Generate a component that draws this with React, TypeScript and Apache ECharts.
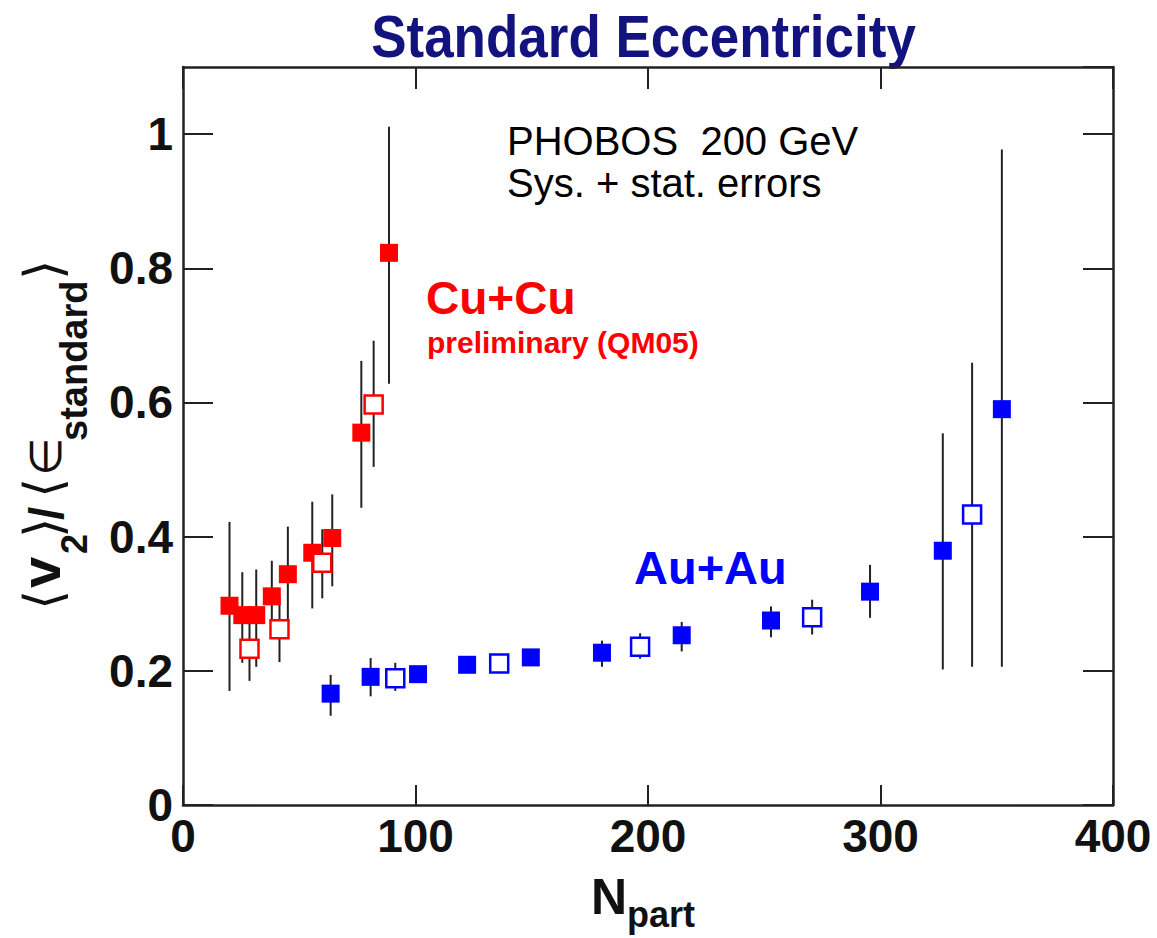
import React, { useEffect, useRef } from "react";
import * as echarts from "echarts";

// Cu+Cu filled squares
const cuFilledX = [20.0, 25.5, 31.5, 38.2, 45.1, 55.6, 64.2, 76.7, 88.6];
const cuFilledY = [0.297, 0.283, 0.283, 0.311, 0.344, 0.376, 0.398, 0.555, 0.823];
const cuFilledLo = [0.170, 0.212, 0.206, 0.257, 0.277, 0.293, 0.326, 0.443, 0.628];
const cuFilledHi = [0.422, 0.347, 0.351, 0.364, 0.415, 0.452, 0.463, 0.662, 1.011];
// Cu+Cu open squares
const cuOpenX = [28.6, 41.5, 59.9, 82.0];
const cuOpenY = [0.233, 0.262, 0.361, 0.597];
const cuOpenLo = [0.185, 0.213, 0.308, 0.504];
const cuOpenHi = [0.281, 0.312, 0.411, 0.692];
// Au+Au filled squares
const auFilledX = [63.5, 80.7, 101.1, 122.2, 149.6, 180.2, 214.5, 252.9, 295.5, 326.8, 352.2];
const auFilledY = [0.166, 0.191, 0.195, 0.209, 0.220, 0.227, 0.253, 0.275, 0.318, 0.379, 0.590];
const auFilledLo = [0.133, 0.162, 0.190, 0.200, 0.210, 0.206, 0.229, 0.250, 0.279, 0.202, 0.206];
const auFilledHi = [0.194, 0.219, 0.200, 0.215, 0.228, 0.245, 0.273, 0.296, 0.358, 0.554, 0.977];
// Au+Au open squares
const auOpenX = [91.3, 136.0, 196.6, 270.6, 339.4];
const auOpenY = [0.189, 0.211, 0.236, 0.280, 0.433];
const auOpenLo = [0.170, 0.205, 0.218, 0.254, 0.206];
const auOpenHi = [0.212, 0.218, 0.256, 0.306, 0.659];

const xTicks = [0, 100, 200, 300, 400];
const yTicks = [0, 0.2, 0.4, 0.6, 0.8, 1];

const titleText = "Standard Eccentricity";
const infoLines = ["PHOBOS  200 GeV", "Sys. + stat. errors"];
const cuLabel = "Cu+Cu";
const cuSubLabel = "preliminary (QM05)";
const auLabel = "Au+Au";

const FONT = "Liberation Sans, Arial, Helvetica, sans-serif";
const MATH = "DejaVu Sans, Liberation Sans, sans-serif";

function pts(xs: number[], ys: number[]) {
  return xs.map((x, i) => [x, ys[i]]);
}
function errs(xs: number[], lo: number[], hi: number[]) {
  return xs.map((x, i) => [x, lo[i], hi[i]]);
}

export default function App() {
  const ref = useRef<HTMLDivElement>(null);
  useEffect(() => {
    if (!ref.current) return;
    const chart = echarts.init(ref.current, null, { renderer: "svg" });

    const errSeries = (data: number[][]) => ({
      type: "custom",
      xAxisIndex: 0,
      yAxisIndex: 0,
      z: 1,
      silent: true,
      data,
      encode: { x: 0, y: [1, 2] },
      renderItem: (params: any, api: any) => {
        const p1 = api.coord([api.value(0), api.value(1)]);
        const p2 = api.coord([api.value(0), api.value(2)]);
        return {
          type: "line",
          shape: { x1: p1[0], y1: p1[1], x2: p2[0], y2: p2[1] },
          style: { stroke: "#222", lineWidth: 2 },
        };
      },
    });

    const markSeries = (data: number[][], color: string, open: boolean) => ({
      type: "scatter",
      xAxisIndex: 0,
      yAxisIndex: 0,
      z: 3,
      symbol: "rect",
      symbolSize: open ? 18 : 18,
      data,
      itemStyle: open
        ? { color: "#ffffff", borderColor: color, borderWidth: 2.5, opacity: 1 }
        : { color, opacity: 1 },
    });

    const axisLineStyle = { color: "#222", width: 2.5 };
    const tickLabel = {
      fontFamily: FONT,
      fontWeight: "bold",
      fontSize: 46,
      color: "#111",
    };

    const yStart = 610;
    const yTitleParts = [
      { t: "\u27E8", x: 0, y: 43, font: MATH, w: "normal", s: 52 },
      { t: "v", x: 22, y: 40, font: FONT, w: "bold", s: 56 },
      { t: "2", x: 56, y: 74, font: FONT, w: "bold", s: 36 },
      { t: "\u27E9", x: 72, y: 43, font: MATH, w: "normal", s: 52 },
      { t: "/", x: 90, y: 46, font: FONT, w: "bold", s: 48 },
      { t: "\u27E8", x: 112, y: 43, font: MATH, w: "normal", s: 52 },
      { t: "\u2208", x: 134, y: 45, font: MATH, w: "normal", s: 44 },
      { t: "standard", x: 169, y: 74, font: FONT, w: "bold", s: 38 },
      { t: "\u27E9", x: 330, y: 43, font: MATH, w: "normal", s: 52 },
    ];

    chart.setOption({
      animation: false,
      backgroundColor: "#ffffff",
      grid: {
        left: 183,
        top: 67,
        right: 44,
        bottom: 133,
        containLabel: false,
        outerBoundsMode: "none",
      },
      xAxis: [
        {
          type: "value",
          position: "bottom",
          min: xTicks[0],
          max: xTicks[xTicks.length - 1],
          interval: 100,
          axisLine: { show: true, onZero: false, lineStyle: axisLineStyle },
          axisTick: { show: true, inside: true, length: 20, lineStyle: { color: "#222", width: 2 } },
          axisLabel: { ...tickLabel, margin: 8 },
          splitLine: { show: false },
        },
        {
          type: "value",
          position: "top",
          min: xTicks[0],
          max: xTicks[xTicks.length - 1],
          interval: 100,
          axisLine: { show: true, onZero: false, lineStyle: axisLineStyle },
          axisTick: { show: true, inside: true, length: 22, lineStyle: { color: "#222", width: 2 } },
          axisLabel: { show: false },
          splitLine: { show: false },
        },
      ],
      yAxis: [
        {
          type: "value",
          position: "left",
          min: 0,
          max: 1.1,
          interval: 0.2,
          axisLine: { show: true, onZero: false, lineStyle: axisLineStyle },
          axisTick: { show: true, inside: true, length: 30, lineStyle: { color: "#222", width: 2 } },
          axisLabel: {
            ...tickLabel,
            margin: 10,
            padding: [8, 0, 0, 0],
            showMaxLabel: false,
            formatter: (v: number) => {
              const m = yTicks.find((t) => Math.abs(t - v) < 1e-6);
              return m === undefined ? "" : String(m);
            },
          },
          splitLine: { show: false },
        },
        {
          type: "value",
          position: "right",
          min: 0,
          max: 1.1,
          interval: 0.2,
          axisLine: { show: true, onZero: false, lineStyle: axisLineStyle },
          axisTick: { show: true, inside: true, length: 30, lineStyle: { color: "#222", width: 2 } },
          axisLabel: { show: false },
          splitLine: { show: false },
        },
      ],
      series: [
        errSeries(errs(cuFilledX, cuFilledLo, cuFilledHi)),
        errSeries(errs(cuOpenX, cuOpenLo, cuOpenHi)),
        errSeries(errs(auFilledX, auFilledLo, auFilledHi)),
        errSeries(errs(auOpenX, auOpenLo, auOpenHi)),
        markSeries(pts(cuFilledX, cuFilledY), "#ff0000", false),
        markSeries(pts(cuOpenX, cuOpenY), "#ff0000", true),
        markSeries(pts(auFilledX, auFilledY), "#0000ff", false),
        markSeries(pts(auOpenX, auOpenY), "#0000ff", true),
      ],
      graphic: [
        {
          type: "text",
          x: 643.5,
          y: 36,
          scaleY: 1.12,
          style: {
            text: titleText,
            fontFamily: FONT,
            fontWeight: "bold",
            fontSize: 53,
            fill: "#13137f",
            align: "center",
            verticalAlign: "middle",
          },
        },
        ...infoLines.map((t, i) => ({
          type: "text",
          x: 507,
          y: 141 + i * 42,
          style: {
            text: t,
            fontFamily: FONT,
            fontSize: 40,
            fill: "#000",
            align: "left",
            verticalAlign: "middle",
          },
        })),
        {
          type: "text",
          x: 426,
          y: 298,
          style: {
            text: cuLabel,
            fontFamily: FONT,
            fontWeight: "bold",
            fontSize: 46,
            fill: "#ff0000",
            align: "left",
            verticalAlign: "middle",
          },
        },
        {
          type: "text",
          x: 427,
          y: 342,
          style: {
            text: cuSubLabel,
            fontFamily: FONT,
            fontWeight: "bold",
            fontSize: 30,
            fill: "#ff0000",
            align: "left",
            verticalAlign: "middle",
          },
        },
        {
          type: "text",
          x: 634,
          y: 567,
          style: {
            text: auLabel,
            fontFamily: FONT,
            fontWeight: "bold",
            fontSize: 47,
            fill: "#0000ff",
            align: "left",
            verticalAlign: "middle",
          },
        },
        {
          type: "text",
          x: 591,
          y: 897,
          style: {
            text: "N",
            fontFamily: FONT,
            fontWeight: "bold",
            fontSize: 50,
            fill: "#111",
            align: "left",
            verticalAlign: "middle",
          },
        },
        {
          type: "text",
          x: 627,
          y: 914,
          style: {
            text: "part",
            fontFamily: FONT,
            fontWeight: "bold",
            fontSize: 36,
            fill: "#111",
            align: "left",
            verticalAlign: "middle",
          },
        },
        {
          type: "group",
          x: 0,
          y: yStart,
          rotation: Math.PI / 2,
          children: yTitleParts.map((p) => ({
            type: "text",
            x: p.x,
            y: p.y,
            style: {
              text: p.t,
              fontFamily: p.font,
              fontWeight: p.w,
              fontSize: p.s,
              fill: "#111",
              align: "left",
              verticalAlign: "middle",
            },
          })),
        },
      ],
    });
    return () => chart.dispose();
  }, []);
  return (
    <div
      ref={ref}
      style={{ position: "fixed", left: 0, top: 0, width: 1157, height: 938, background: "#fff" }}
    />
  );
}
